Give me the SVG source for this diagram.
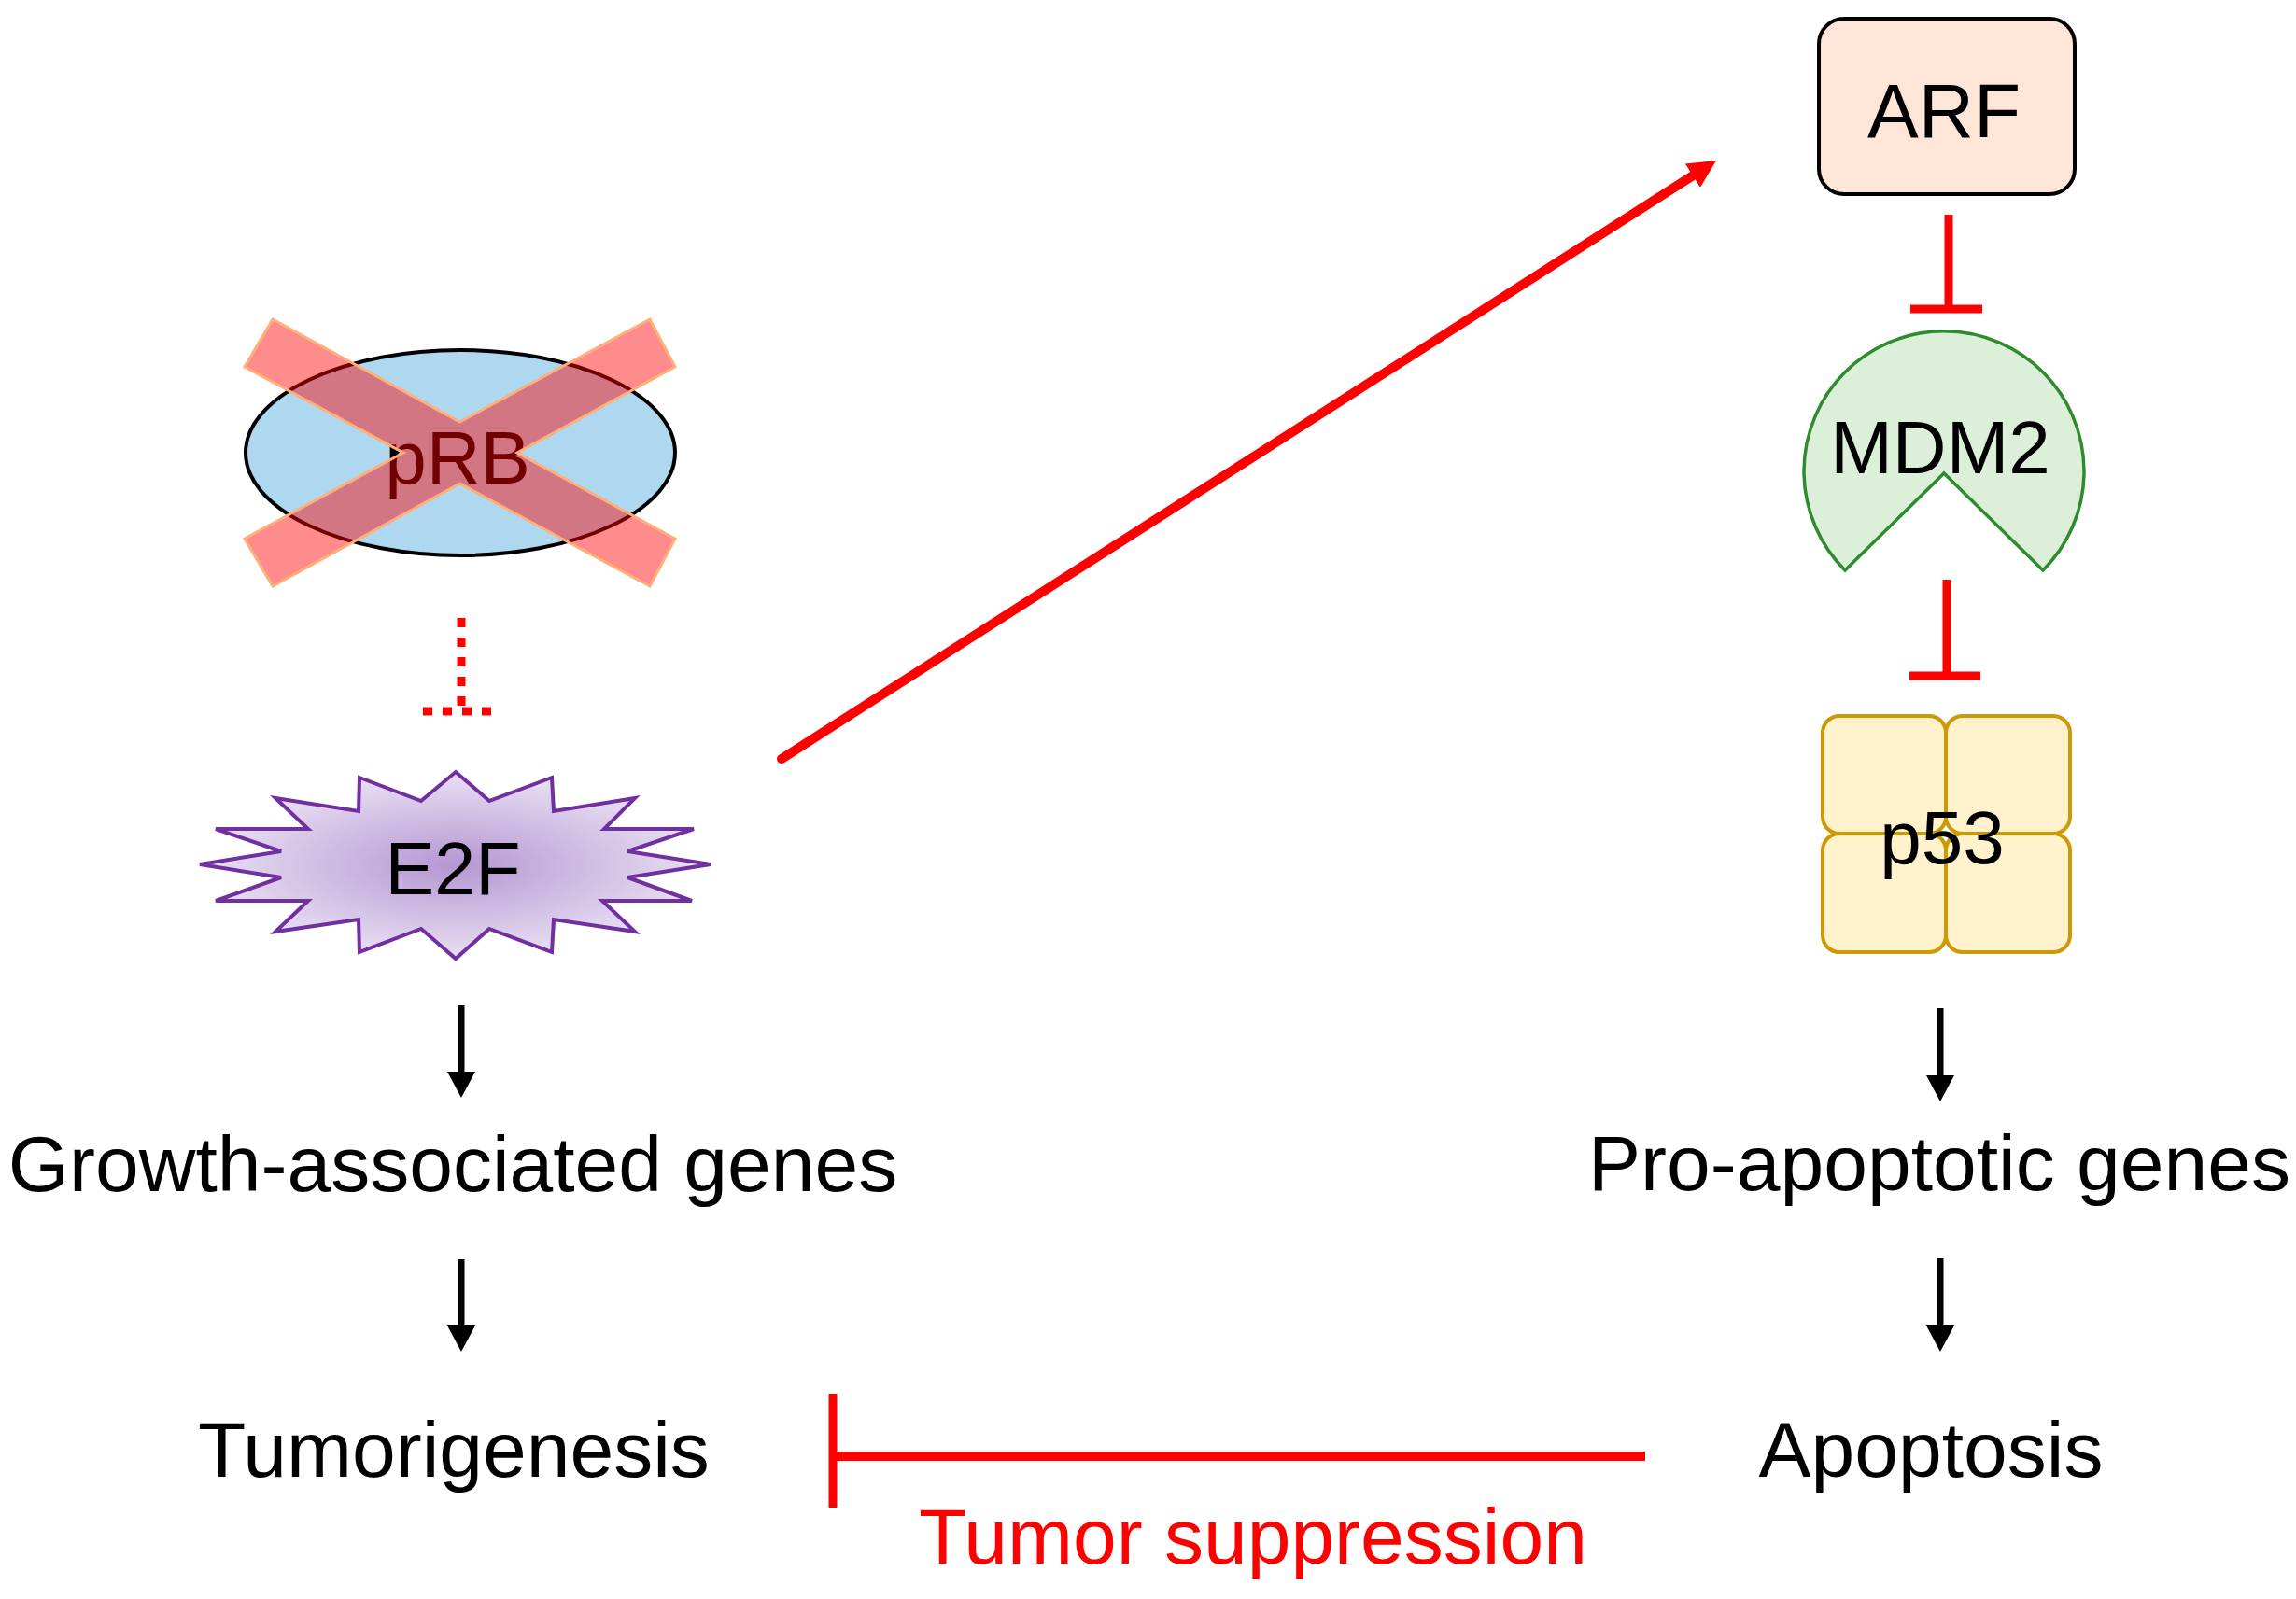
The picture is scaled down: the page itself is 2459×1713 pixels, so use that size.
<svg xmlns="http://www.w3.org/2000/svg" width="2459" height="1713" viewBox="0 0 2459 1713">
<style>
.lbl{font-family:"Liberation Sans",Arial,sans-serif;font-size:84px;fill:#000;text-anchor:middle}
.blk{stroke:#000;stroke-width:7;fill:none}
.red{stroke:#ff0000;fill:none}
</style>
<defs>
<radialGradient id="e2fGrad" cx="50%" cy="50%" r="50%">
<stop offset="0" stop-color="#b597d2"/>
<stop offset="1" stop-color="#e9e0f3"/>
</radialGradient>
<marker id="ahBlack" markerUnits="userSpaceOnUse" viewBox="0 0 28 30" refX="8" refY="15" markerWidth="28" markerHeight="30" orient="auto">
<path d="M0,0 L28,15 L0,30 z" fill="#000"/>
</marker>
<marker id="ahRed" markerUnits="userSpaceOnUse" viewBox="0 0 30 30" refX="12" refY="15" markerWidth="30" markerHeight="30" orient="auto">
<path d="M0,0 L30,15 L0,30 z" fill="#ff0000"/>
</marker>
</defs>
<rect width="2459" height="1713" fill="#fff"/>

<g id="node-prb">
<ellipse cx="493" cy="485" rx="230" ry="110" fill="#aed8ef" stroke="#000" stroke-width="4"/>
<text class="lbl" x="490" y="518" style="font-size:80px">pRB</text>
<path d="M292,342 L492.5,452 L696,342 L723,393 L554,485 L723,577 L696,628 L492.5,518 L292,628 L262,577 L432,485 L262,393 Z" fill="#ff0000" fill-opacity="0.45" stroke="#ffb07a" stroke-width="3" stroke-linejoin="miter"/>
</g>

<g id="node-e2f">
<polygon points="488,827 524,858 591,833 593,869 680,855 647,888 743,888 672,912 761,926 672,940 741,965 645,965 680,998 593,985 591,1020 524,995 488,1027 451,995 385,1020 384,985 295,998 330,965 231,965 301,940 214,926 301,912 231,888 330,888 295,855 384,869 385,833 451,858" fill="url(#e2fGrad)" stroke="#7030a0" stroke-width="4" stroke-linejoin="miter"/>
<text class="lbl" x="485" y="958" style="font-size:79px">E2F</text>
</g>

<g id="node-arf">
<rect x="1948" y="20" width="274" height="188" rx="27" ry="27" fill="#fde5d8" stroke="#000" stroke-width="4"/>
<text class="lbl" x="2082" y="147" style="font-size:82px">ARF</text>
</g>

<g id="node-mdm2">
<path d="M1976,611 A150,150 0 1 1 2188,611 L2082,507 Z" fill="#dcefd8" stroke="#2e8b2e" stroke-width="3.5"/>
<text class="lbl" x="2078" y="507" style="font-size:80px">MDM2</text>
</g>

<g id="node-p53">
<g fill="#fff2cc" stroke="#cc9a06" stroke-width="4">
<rect x="1952" y="767" width="132" height="126" rx="18"/>
<rect x="2084" y="767" width="133" height="126" rx="18"/>
<rect x="1952" y="893" width="132" height="127" rx="18"/>
<rect x="2084" y="893" width="133" height="127" rx="18"/>
</g>
<text class="lbl" x="2080" y="925" style="font-size:80px">p53</text>
</g>

<g id="node-growth"><text class="lbl" x="485" y="1276">Growth-associated genes</text></g>
<g id="node-tumorigenesis"><text class="lbl" x="486" y="1582">Tumorigenesis</text></g>
<g id="node-proapoptotic"><text class="lbl" x="2077" y="1275">Pro-apoptotic genes</text></g>
<g id="node-apoptosis"><text class="lbl" x="2068" y="1582">Apoptosis</text></g>

<g id="connectors">
<g class="red" stroke-width="9" stroke-dasharray="10 11">
<line x1="494" y1="662" x2="494" y2="762"/>
<line x1="453" y1="762" x2="530" y2="762"/>
</g>
<line class="red" x1="837" y1="813" x2="1823" y2="181.7" stroke-width="10" stroke-linecap="round" marker-end="url(#ahRed)"/>
<g class="red" stroke-width="9">
<line x1="2087" y1="230" x2="2087" y2="331"/>
<line x1="2046" y1="331" x2="2123" y2="331"/>
<line x1="2085" y1="621" x2="2085" y2="724"/>
<line x1="2045" y1="724" x2="2121" y2="724"/>
<line x1="892" y1="1493" x2="892" y2="1615"/>
</g>
<line class="red" x1="892" y1="1560" x2="1762" y2="1560" stroke-width="10"/>
<line class="blk" x1="494" y1="1077" x2="494" y2="1156" marker-end="url(#ahBlack)"/>
<line class="blk" x1="494" y1="1349" x2="494" y2="1428" marker-end="url(#ahBlack)"/>
<line class="blk" x1="2078" y1="1080" x2="2078" y2="1160" marker-end="url(#ahBlack)"/>
<line class="blk" x1="2078" y1="1348" x2="2078" y2="1428" marker-end="url(#ahBlack)"/>
</g>

<g id="label-tumor-suppression"><text class="lbl" x="1342" y="1675" style="fill:#ff0000">Tumor suppression</text></g>
</svg>
